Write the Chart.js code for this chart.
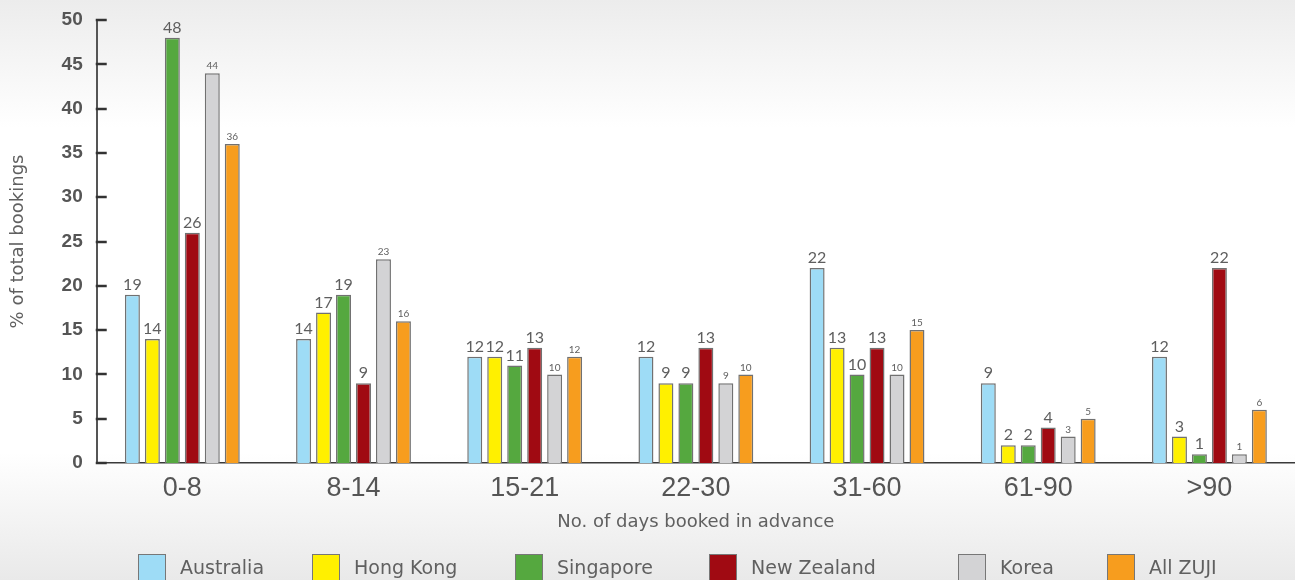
<!DOCTYPE html>
<html>
<head>
<meta charset="utf-8">
<script src="https://cdn.jsdelivr.net/npm/chart.js@4"></script>
<style>
  html, body { margin: 0; padding: 0; }
  body {
    width: 1295px; height: 580px; overflow: hidden; position: relative;
    background: linear-gradient(to bottom, #ececec 0%, #ffffff 22%, #ffffff 78%, #e9e9e9 100%);
  }
  #wrap { position: absolute; left: 0; top: 0; width: 1295px; height: 580px; }
  #legend { position: absolute; left: 0; top: 0; width: 1295px; height: 580px; pointer-events: none; }
  .item { position: absolute; top: 554px; height: 28px; }
  .box { position: absolute; left: 0; top: 0; width: 26px; height: 26px; border: 1.5px solid #777; }
  .lbl { position: absolute; left: 42px; top: 2px; font: 19px "DejaVu Sans", sans-serif; color: #606060; white-space: nowrap; }
</style>
</head>
<body>
<div id="wrap"><canvas id="bookings" width="1295" height="580"></canvas></div>
<div id="legend"></div>
<script>
const categories = ['0-8', '8-14', '15-21', '22-30', '31-60', '61-90', '>90'];
const australia = [19, 14, 12, 12, 22, 9, 12];
const hongKong = [14, 17, 12, 9, 13, 2, 3];
const singapore = [48, 19, 11, 9, 10, 2, 1];
const newZealand = [26, 9, 13, 13, 13, 4, 22];
const korea = [44, 23, 10, 9, 10, 3, 1];
const allZuji = [36, 16, 12, 10, 15, 5, 6];
const yTicks = [0, 5, 10, 15, 20, 25, 30, 35, 40, 45, 50];

// small numbers above each bar
const valueLabels = {
    id: 'valueLabels',
    afterDatasetsDraw(chart) {
        const ctx = chart.ctx;
        ctx.save();
        ctx.fillStyle = '#5e5e5e';
        ctx.textAlign = 'center';
        ctx.textBaseline = 'bottom';
        chart.data.datasets.forEach((ds, i) => {
            const meta = chart.getDatasetMeta(i);
            ctx.font = ds.valueSize + 'px Lato, sans-serif';
            meta.data.forEach((bar, j) => {
                ctx.fillText(ds.data[j], bar.x, bar.y - 2);
            });
        });
        ctx.restore();
    }
};

// tick marks on the y axis point into the plot
const innerTicks = {
    id: 'innerTicks',
    afterDraw(chart) {
        const ctx = chart.ctx;
        const y = chart.scales.y;
        const left = chart.chartArea.left;
        ctx.save();
        ctx.strokeStyle = '#333';
        ctx.lineWidth = 2.5;
        y.ticks.forEach(t => {
            const py = Math.round(y.getPixelForValue(t.value));
            ctx.beginPath();
            ctx.moveTo(left - 1, py);
            ctx.lineTo(left + 10, py);
            ctx.stroke();
        });
        ctx.restore();
    }
};

function makeSet(label, data, color, size) {
    return {
        label: label,
        data: data,
        backgroundColor: color,
        borderColor: '#717171',
        borderWidth: 1.5,
        categoryPercentage: 0.7,
        barPercentage: 0.75,
        valueSize: size
    };
}

const datasets = [
    makeSet('Australia', australia, '#9edcf6', 16),
    makeSet('Hong Kong', hongKong, '#fff000', 16),
    makeSet('Singapore', singapore, '#55a83f', 16),
    makeSet('New Zealand', newZealand, '#a00a12', 16),
    makeSet('Korea', korea, '#d3d3d5', 10),
    makeSet('All ZUJI', allZuji, '#f79d1e', 10)
];

const ctx = document.getElementById('bookings').getContext('2d');
const chart = new Chart(ctx, {
    type: 'bar',
    data: { labels: categories, datasets: datasets },
    options: {
        responsive: false,
        animation: false,
        layout: { padding: { left: 4, right: 0, top: 20, bottom: 47 } },
        plugins: {
            legend: { display: false },
            tooltip: { enabled: false }
        },
        scales: {
            x: {
                grid: { display: false, drawTicks: false },
                border: { color: '#3a3a3a', width: 1.5 },
                ticks: { color: '#555', font: { family: 'Liberation Sans', size: 27 }, padding: 9 },
                title: {
                    display: true,
                    text: 'No. of days booked in advance',
                    color: '#606060',
                    font: { family: 'DejaVu Sans', size: 18 },
                    padding: { top: -2, bottom: 0 }
                }
            },
            y: {
                min: 0,
                max: 50,
                afterBuildTicks(scale) {
                    scale.ticks = yTicks.map(v => ({ value: v }));
                },
                // tick length only reserves room for the labels; the marks come from innerTicks
                grid: { display: false, drawTicks: true, tickLength: 12 },
                border: { color: '#555', width: 2 },
                ticks: { color: '#555', font: { family: 'Liberation Sans', size: 19, weight: 'bold' }, padding: 2 },
                title: {
                    display: true,
                    text: '% of total bookings',
                    color: '#606060',
                    font: { family: 'DejaVu Sans', size: 18 },
                    padding: { top: 4, bottom: 30 }
                }
            }
        }
    },
    plugins: [valueLabels, innerTicks]
});

// legend row along the bottom edge
const legendLeft = [138, 312, 515, 709, 958, 1107];
const legend = document.getElementById('legend');
datasets.forEach((ds, i) => {
    const item = document.createElement('div');
    item.className = 'item';
    item.style.left = legendLeft[i] + 'px';
    item.innerHTML = '<div class="box" style="background:' + ds.backgroundColor + '"></div><div class="lbl">' + ds.label + '</div>';
    legend.appendChild(item);
});
</script>
</body>
</html>
